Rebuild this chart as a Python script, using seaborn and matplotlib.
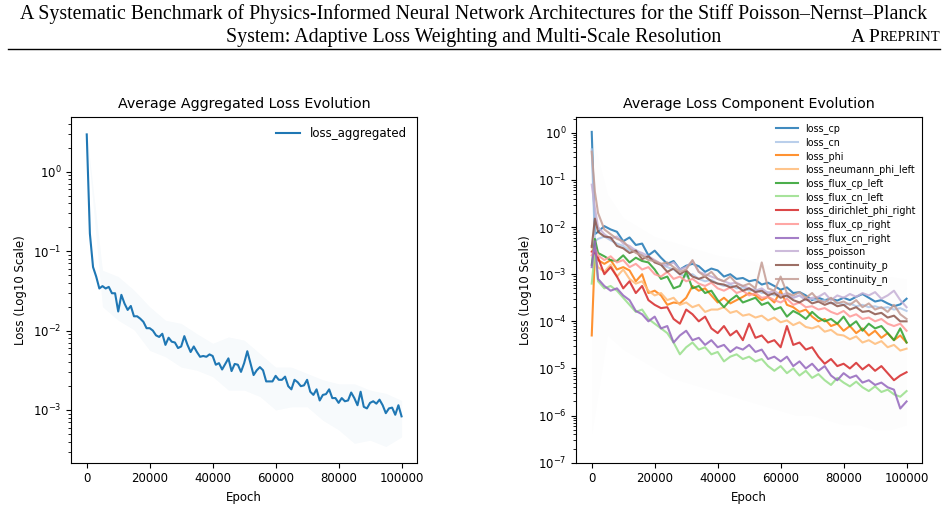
import numpy as np
import pandas as pd
import matplotlib
matplotlib.use("Agg")
import matplotlib.pyplot as plt
import seaborn as sns

# ---------------- data (log10 of loss values) ----------------
EPOCHS_L = list(range(0, 100001, 1000))
LOG_AGG = [
    0.47, -0.78, -1.20, -1.32, -1.47, -1.44, -1.47, -1.45, -1.53, -1.53,
    -1.76, -1.55, -1.66, -1.74, -1.69, -1.82, -1.82, -1.85, -1.89, -1.97,
    -1.97, -2.00, -2.06, -2.08, -2.04, -2.18, -2.09, -2.14, -2.15, -2.22,
    -2.20, -2.07, -2.18, -2.27, -2.20, -2.27, -2.33, -2.32, -2.33, -2.30,
    -2.32, -2.43, -2.41, -2.49, -2.42, -2.35, -2.51, -2.42, -2.43, -2.52,
    -2.41, -2.26, -2.41, -2.56, -2.50, -2.46, -2.50, -2.64, -2.64, -2.64,
    -2.57, -2.62, -2.62, -2.58, -2.70, -2.74, -2.62, -2.65, -2.70, -2.69,
    -2.62, -2.77, -2.81, -2.74, -2.88, -2.81, -2.80, -2.74, -2.85, -2.85,
    -2.91, -2.85, -2.89, -2.88, -2.78, -2.85, -2.94, -2.77, -2.96, -2.98,
    -2.91, -2.89, -2.92, -2.87, -2.94, -3.04, -2.98, -2.97, -3.06, -2.94, -3.08,
]
# spread of the individual runs (faint background), every 5000 epochs
EPOCHS_HAZE = list(range(0, 100001, 5000))
HAZE_L_HI = [0.49, -1.24, -1.32, -1.49, -1.70, -1.87, -1.91, -2.04, -2.16, -2.08, -2.12,
             -2.29, -2.46, -2.46, -2.54, -2.62, -2.67, -2.67, -2.75, -2.79, -2.88]
HAZE_L_LO = [0.45, -1.70, -1.87, -1.99, -2.25, -2.33, -2.46, -2.50, -2.58, -2.75, -2.75,
             -2.83, -3.00, -2.96, -2.96, -3.13, -3.25, -3.42, -3.38, -3.46, -3.34]
HAZE_R_HI = [0.0, -1.3, -1.8, -2.0, -2.2, -2.3, -2.4, -2.5, -2.6, -2.65, -2.7,
             -2.8, -2.85, -2.9, -2.95, -2.95, -3.0, -3.0, -3.05, -3.05, -3.1]
HAZE_R_LO = [-6.4, -4.3, -4.6, -4.8, -5.0, -5.2, -5.3, -5.4, -5.5, -5.6, -5.7,
             -5.8, -5.9, -6.0, -6.0, -6.1, -6.2, -6.2, -6.3, -6.3, -6.2]

EPOCHS_R = [0, 1000] + list(range(2000, 100001, 2000))
COMPONENTS = ["loss_cp", "loss_cn", "loss_phi", "loss_neumann_phi_left",
              "loss_flux_cp_left", "loss_flux_cn_left", "loss_dirichlet_phi_right",
              "loss_flux_cp_right", "loss_flux_cn_right", "loss_poisson",
              "loss_continuity_p", "loss_continuity_n"]
LOG_CP = [0.02, -2.15, -2.10, -1.98, -2.05, -2.10, -2.30, -2.22, -2.38, -2.35,
          -2.60, -2.50, -2.65, -2.78, -2.72, -2.90, -2.82, -2.78, -2.83, -2.95,
          -2.88, -2.92, -3.05, -3.00, -3.10, -3.08, -3.15, -3.12, -3.22, -3.18,
          -3.25, -3.33, -3.28, -3.40, -3.38, -3.45, -3.55, -3.50, -3.55, -3.52,
          -3.56, -3.50, -3.55, -3.48, -3.42, -3.50, -3.58, -3.55, -3.62, -3.68,
          -3.64, -3.52]
LOG_CN = [-0.35, -2.30, -2.25, -2.20, -2.28, -2.35, -2.40, -2.50, -2.48, -2.60,
          -2.65, -2.72, -2.80, -2.85, -2.90, -3.00, -3.05, -3.00, -3.10, -3.15,
          -3.12, -3.20, -3.25, -3.22, -3.30, -3.28, -3.35, -3.32, -3.40, -3.38,
          -3.45, -3.42, -3.48, -3.50, -3.45, -3.55, -3.52, -3.58, -3.55, -3.62,
          -3.60, -3.65, -3.62, -3.68, -3.65, -3.70, -3.68, -3.72, -3.70, -3.75,
          -3.72, -3.78]
LOG_PHI = [-4.30, -2.55, -2.70, -2.78, -2.70, -2.90, -2.85, -2.92, -3.15, -3.00,
           -3.40, -3.35, -3.45, -3.65, -3.60, -3.62, -3.50, -3.25, -3.35, -3.30,
           -3.45, -3.60, -3.50, -3.62, -3.55, -3.48, -3.40, -3.45, -3.55, -3.48,
           -3.60, -3.35, -3.65, -3.70, -3.80, -3.75, -3.90, -4.00, -3.95, -4.10,
           -4.05, -4.20, -4.10, -4.25, -4.15, -4.30, -4.20, -4.35, -4.25, -4.40,
           -4.30, -4.45]
LOG_NEUMANN = [-2.40, -2.65, -2.85, -2.95, -2.80, -3.05, -2.90, -3.10, -3.20, -3.15,
               -3.35, -3.45, -3.40, -3.55, -3.50, -3.65, -3.60, -3.70, -3.65, -3.80,
               -3.75, -3.75, -3.70, -3.82, -3.78, -3.88, -3.85, -3.92, -3.88, -3.98,
               -3.92, -4.02, -3.98, -4.08, -4.02, -4.12, -4.15, -4.10, -4.22, -4.18,
               -4.28, -4.30, -4.38, -4.32, -4.45, -4.40, -4.48, -4.42, -4.55, -4.50,
               -4.62, -4.58]
LOG_FLUX_CP_L = [-2.80, -2.25, -2.55, -2.62, -2.70, -2.72, -2.60, -2.75, -2.65, -2.72,
                 -2.75, -2.90, -3.10, -3.05, -3.30, -3.25, -2.95, -3.30, -3.25, -3.40,
                 -3.35, -3.55, -3.70, -3.55, -3.45, -3.60, -3.55, -3.50, -3.65, -3.60,
                 -3.75, -3.70, -3.90, -3.78, -3.85, -3.95, -3.80, -3.92, -4.00, -3.95,
                 -4.05, -3.90, -4.10, -4.00, -4.20, -4.05, -4.15, -4.10, -4.25, -4.40,
                 -4.15, -4.45]
LOG_FLUX_CN_L = [-3.20, -2.50, -3.15, -3.30, -3.25, -3.35, -3.50, -3.65, -3.80, -3.75,
                 -3.95, -4.05, -4.15, -4.25, -4.45, -4.70, -4.55, -4.45, -4.60, -4.55,
                 -4.70, -4.65, -4.85, -4.75, -4.70, -4.80, -4.75, -4.85, -4.80, -4.95,
                 -5.05, -4.95, -5.10, -5.00, -5.15, -5.05, -5.20, -5.12, -5.25, -5.35,
                 -5.20, -5.30, -5.38, -5.28, -5.40, -5.48, -5.38, -5.50, -5.45, -5.55,
                 -5.60, -5.48]
LOG_DIRICHLET = [-2.52, -2.55, -2.65, -3.00, -2.85, -3.05, -3.30, -3.15, -3.40, -3.25,
                 -3.55, -3.65, -3.72, -3.70, -3.95, -4.05, -3.75, -3.85, -4.00, -3.90,
                 -4.15, -4.25, -4.10, -4.30, -4.20, -4.40, -4.05, -4.35, -4.30, -4.45,
                 -4.40, -4.55, -4.10, -4.50, -4.45, -4.60, -4.55, -4.75, -4.90, -4.80,
                 -4.95, -4.90, -5.00, -4.88, -5.02, -4.92, -5.05, -4.95, -5.10, -5.25,
                 -5.15, -5.08]
LOG_FLUX_CP_R = [-2.60, -2.45, -2.60, -2.70, -2.62, -2.75, -2.70, -2.85, -2.78, -2.90,
                 -2.85, -3.00, -3.05, -2.95, -3.10, -3.05, -3.15, -3.10, -3.20, -3.25,
                 -3.18, -3.30, -3.35, -3.28, -3.40, -3.35, -3.45, -3.40, -3.50, -3.48,
                 -3.55, -3.60, -3.52, -3.65, -3.60, -3.70, -3.68, -3.75, -3.72, -3.80,
                 -3.85, -3.78, -3.90, -3.85, -3.95, -3.92, -4.00, -3.95, -4.05, -4.10,
                 -4.05, -4.20]
LOG_FLUX_CN_R = [-2.85, -2.30, -3.10, -3.25, -3.35, -3.30, -3.45, -3.55, -3.78, -3.85,
                 -4.00, -3.90, -4.15, -4.10, -4.45, -4.30, -4.20, -4.40, -4.35, -4.50,
                 -4.40, -4.55, -4.50, -4.65, -4.55, -4.60, -4.50, -4.65, -4.60, -4.80,
                 -4.75, -4.85, -4.75, -4.95, -4.85, -5.00, -4.90, -5.05, -4.95, -5.15,
                 -5.25, -5.10, -5.20, -5.15, -5.30, -5.25, -5.35, -5.30, -5.40, -5.45,
                 -5.85, -5.70]
LOG_POISSON = [-1.10, -1.60, -2.00, -2.15, -2.25, -2.20, -2.35, -2.40, -2.50, -2.55,
               -2.62, -2.70, -2.78, -2.82, -2.75, -2.90, -2.85, -2.72, -2.95, -3.00,
               -3.05, -3.10, -3.15, -3.20, -3.18, -3.25, -3.30, -3.35, -3.30, -3.40,
               -3.35, -3.45, -3.40, -3.50, -3.45, -3.55, -3.50, -3.48, -3.40, -3.55,
               -3.45, -3.50, -3.42, -3.48, -3.40, -3.45, -3.38, -3.52, -3.45, -3.35,
               -3.55, -3.70]
LOG_CONT_P = [-2.42, -1.82, -2.10, -2.20, -2.22, -2.40, -2.45, -2.55, -2.50, -2.68,
              -2.62, -2.75, -2.80, -2.95, -2.88, -3.00, -2.92, -3.05, -3.10, -3.05,
              -3.15, -3.20, -3.22, -3.28, -3.25, -3.35, -3.30, -3.38, -3.35, -3.45,
              -3.40, -3.50, -3.45, -3.55, -3.60, -3.52, -3.62, -3.58, -3.65, -3.60,
              -3.68, -3.65, -3.75, -3.70, -3.80, -3.78, -3.85, -3.82, -3.92, -3.88,
              -4.00, -4.00]
LOG_CONT_N = [-0.40, -1.25, -1.70, -2.05, -2.15, -2.25, -2.30, -2.45, -2.55, -2.60,
              -2.70, -2.72, -2.78, -2.75, -2.85, -2.95, -2.90, -2.70, -2.95, -3.05,
              -2.95, -3.10, -3.15, -3.05, -3.20, -3.25, -3.20, -3.30, -2.75, -3.30,
              -3.35, -3.05, -3.40, -3.45, -3.38, -3.50, -3.40, -3.55, -3.60, -3.50,
              -3.62, -3.58, -3.65, -3.55, -3.70, -3.62, -3.75, -3.70, -3.80, -3.65,
              -3.85, -3.95]
COMPONENT_LOGS = [LOG_CP, LOG_CN, LOG_PHI, LOG_NEUMANN, LOG_FLUX_CP_L, LOG_FLUX_CN_L,
                  LOG_DIRICHLET, LOG_FLUX_CP_R, LOG_FLUX_CN_R, LOG_POISSON,
                  LOG_CONT_P, LOG_CONT_N]

HEADER_1 = ("A Systematic Benchmark of Physics-Informed Neural Network Architectures "
            "for the Stiff Poisson\u2013Nernst\u2013Planck")
HEADER_2 = "System: Adaptive Loss Weighting and Multi-Scale Resolution"

# ---------------- figure ----------------
W, H = 948, 507
fig = plt.figure(figsize=(W / 100, H / 100), dpi=100)
renderer = fig.canvas.get_renderer()

serif = ["Liberation Serif", "DejaVu Serif"]
HFS = 14.3

fig.text(474 / W, 1 - 14 / H, HEADER_1, ha="center", va="center", fontsize=HFS, family=serif)
fig.text(474 / W, 1 - 38 / H, HEADER_2, ha="center", va="center", fontsize=HFS, family=serif)
t_rep = fig.text(940 / W, 1 - 38 / H, "REPRINT", ha="right", va="center",
                 fontsize=10.5, family=serif)
bb = t_rep.get_window_extent(renderer=renderer)
fig.text(bb.x0 / W, 1 - 38 / H, "A P", ha="right", va="center", fontsize=14, family=serif)
fig.add_artist(plt.Line2D([8 / W, 940 / W], [1 - 49 / H, 1 - 49 / H],
                          transform=fig.transFigure, color="black", lw=1.0))

bottom = 1 - 462.7 / H
height = (462.7 - 116.7) / H
axL = fig.add_axes([71 / W, bottom, (417.3 - 71) / W, height])
axR = fig.add_axes([576 / W, bottom, (922.3 - 576) / W, height])

TITLE_FS = 10.3
LAB_FS = 8.5
TICK_FS = 8.5

# Left panel
axL.fill_between(EPOCHS_HAZE, 10 ** np.array(HAZE_L_LO), 10 ** np.array(HAZE_L_HI),
                 color="#1f77b4", alpha=0.035, lw=0)
sns.lineplot(x=EPOCHS_L, y=10 ** np.array(LOG_AGG), ax=axL, color="#1f77b4",
             lw=1.5, label="loss_aggregated")
axL.set_yscale("log")
axL.set_xlim(-5000, 105000)
axL.set_ylim(2.17e-4, 4.93)
axL.set_title("Average Aggregated Loss Evolution", fontsize=TITLE_FS)
axL.set_xlabel("Epoch", fontsize=LAB_FS)
axL.set_ylabel("Loss (Log10 Scale)", fontsize=LAB_FS)
axL.legend(loc="upper right", frameon=False, fontsize=8.5)

# Right panel
axR.fill_between(EPOCHS_HAZE, 10 ** np.array(HAZE_R_LO), 10 ** np.array(HAZE_R_HI),
                 color="#b8b0c8", alpha=0.025, lw=0)
palette = sns.color_palette("tab20", 12)
for name, vals, col in zip(COMPONENTS, COMPONENT_LOGS, palette):
    sns.lineplot(x=EPOCHS_R, y=10 ** np.array(vals), ax=axR, color=col,
                 lw=1.5, alpha=0.85, label=name)
axR.set_yscale("log")
axR.set_xlim(-5000, 105000)
axR.set_ylim(1e-7, 2.2)
axR.set_title("Average Loss Component Evolution", fontsize=TITLE_FS)
axR.set_xlabel("Epoch", fontsize=LAB_FS)
axR.set_ylabel("Loss (Log10 Scale)", fontsize=LAB_FS)
axR.legend(loc="upper right", frameon=False, fontsize=6.9, labelspacing=0.29,
           handlelength=2.2, borderaxespad=0.3)

for ax in (axL, axR):
    ax.tick_params(labelsize=TICK_FS)
    ax.set_xticks([0, 20000, 40000, 60000, 80000, 100000])

fig.savefig("out.png", dpi=100)
